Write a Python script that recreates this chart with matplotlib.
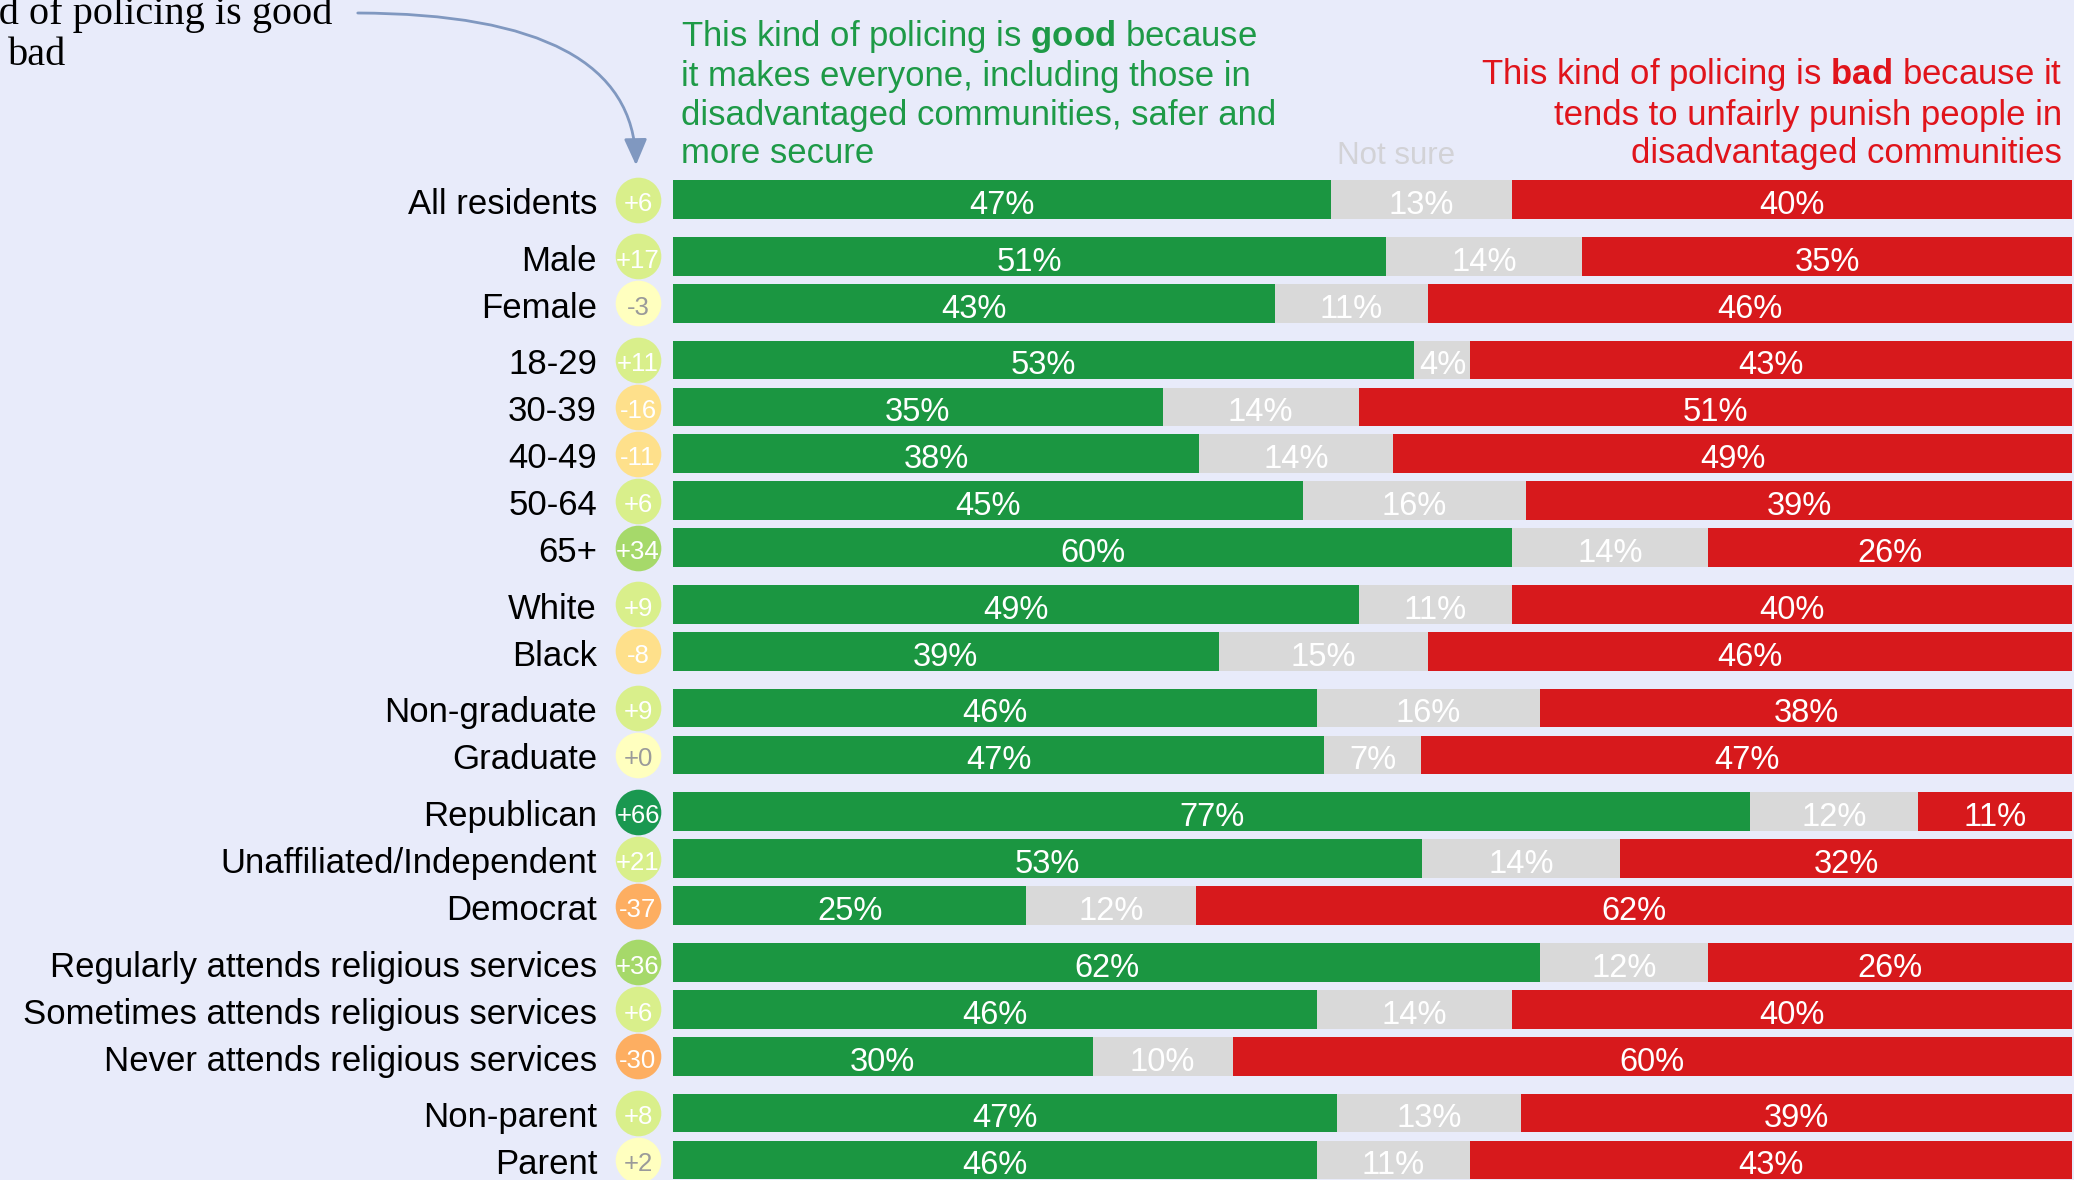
import matplotlib
matplotlib.use("Agg")
import matplotlib.pyplot as plt
from matplotlib.patches import FancyArrowPatch

# data
labels = ["All residents", "Male", "Female", "18-29", "30-39", "40-49", "50-64", "65+",
          "White", "Black", "Non-graduate", "Graduate", "Republican",
          "Unaffiliated/Independent", "Democrat",
          "Regularly attends religious services", "Sometimes attends religious services",
          "Never attends religious services", "Non-parent", "Parent"]
groups = [0, 1, 1, 2, 2, 2, 2, 2, 3, 3, 4, 4, 5, 5, 5, 6, 6, 6, 7, 7]
good = [47, 51, 43, 53, 35, 38, 45, 60, 49, 39, 46, 47, 77, 53, 25, 62, 46, 30, 47, 46]
not_sure = [13, 14, 11, 4, 14, 14, 16, 14, 11, 15, 16, 7, 12, 14, 12, 12, 14, 10, 13, 11]
bad = [40, 35, 46, 43, 51, 49, 39, 26, 40, 46, 38, 47, 11, 32, 62, 26, 40, 60, 39, 43]
net = [6, 17, -3, 11, -16, -11, 6, 34, 9, -8, 9, 0, 66, 21, -37, 36, 6, -30, 8, 2]

W, H = 2074, 1180
BG = "#e8ebfa"
GREEN = "#1b9641"
GREY = "#d9d9d9"
RED = "#d7191c"
SANS = "Liberation Sans"

plt.rcParams["font.family"] = SANS
plt.rcParams["mathtext.fontset"] = "custom"
plt.rcParams["mathtext.rm"] = SANS
plt.rcParams["mathtext.bf"] = SANS + ":bold"

# layout in pixels
row_px = 46.9          # spacing inside a group
group_gap = 0.211      # extra space between groups, in rows
first_px = 199.5       # centre of first bar from top
bar_left, pct_px = 673, 13.99

def circle_colour(v):
    if abs(v) <= 5:
        return "#ffffbf", "#9a9a9a"
    if v > 0:
        return ("#d9ef8b" if v < 30 else "#a6d96a" if v < 60 else "#1a9850"), "white"
    return ("#fee08b" if v > -30 else "#fdae61"), "white"

fig = plt.figure(figsize=(W / 100, H / 100), dpi=100, facecolor=BG)
ax = fig.add_axes([bar_left / W, 0, 100 * pct_px / W, 1])
ax.set_facecolor(BG)
ax.axis("off")
ax.set_xlim(0, 100)
ax.set_ylim((H - first_px) / row_px, -first_px / row_px)

ypos = [i + g * group_gap for i, g in enumerate(groups)]
# each row is stretched to fill the full width
totals = [g + n + b for g, n, b in zip(good, not_sure, bad)]
w_good = [g / t * 100 for g, t in zip(good, totals)]
w_ns = [n / t * 100 for n, t in zip(not_sure, totals)]
w_bad = [b / t * 100 for b, t in zip(bad, totals)]
left_ns = w_good
left_bad = [a + b for a, b in zip(w_good, w_ns)]

ax.barh(ypos, w_good, height=0.825, color=GREEN)
ax.barh(ypos, w_ns, left=left_ns, height=0.825, color=GREY)
ax.barh(ypos, w_bad, left=left_bad, height=0.825, color=RED)

for i, y in enumerate(ypos):
    segs = [(0, w_good[i], good[i]), (left_ns[i], w_ns[i], not_sure[i]),
            (left_bad[i], w_bad[i], bad[i])]
    for left, width, val in segs:
        ax.text(left + width / 2, y + 0.05, f"{val}%", ha="center", va="center_baseline",
                color="white", fontsize=23.5)

# net score bubbles and row labels
circle_x = (638 - bar_left) / pct_px
label_x = (597 - bar_left) / pct_px
for y, lab, v in zip(ypos, labels, net):
    fc, tc = circle_colour(v)
    ax.scatter([circle_x], [y], s=1080, color=fc, clip_on=False, linewidths=0, zorder=3)
    ax.text(circle_x, y + 0.04, f"{v:+d}" if v != 0 else "+0", ha="center",
            va="center_baseline", color=tc, fontsize=18.5, zorder=4)
    ax.text(label_x, y + 0.03, lab, ha="right", va="center_baseline", fontsize=25, color="black")

# headers
def dy(py):
    return (py - first_px) / row_px

def dx(px):
    return (px - bar_left) / pct_px

ax.text(dx(681), dy(163),
        "This kind of policing is $\\bf{good}$ because\nit makes everyone, including those in\n"
        "disadvantaged communities, safer and\nmore secure",
        ha="left", va="baseline", color="#1e9a47", fontsize=25, linespacing=1.21)
ax.text(dx(2062), dy(163),
        "This kind of policing is $\\bf{bad}$ because it\ntends to unfairly punish people in\n"
        "disadvantaged communities",
        ha="right", va="baseline", multialignment="right", color="#e0141b", fontsize=25,
        linespacing=1.21)
ax.text(dx(1337), dy(164), "Not sure", ha="left", va="baseline", color="#d2d2d6", fontsize=22.5)

# annotation cut off at the top-left edge
fig.text(332 / W, 1 - 24 / H, "Net score: whether this kind of policing is good",
         ha="right", va="baseline", family="Liberation Serif", fontsize=29)
fig.text(8 / W, 1 - 65 / H, "bad",
         ha="left", va="baseline", family="Liberation Serif", fontsize=29)
arrow = FancyArrowPatch((355 / W, 1 - 13 / H), (636 / W, 1 - 168 / H),
                        transform=fig.transFigure,
                        connectionstyle="angle3,angleA=0,angleB=90",
                        arrowstyle="-|>,head_length=0.8,head_width=0.35",
                        mutation_scale=20, color="#8098c0", lw=2)
fig.add_artist(arrow)

fig.savefig("out.png", dpi=100, facecolor=BG)
